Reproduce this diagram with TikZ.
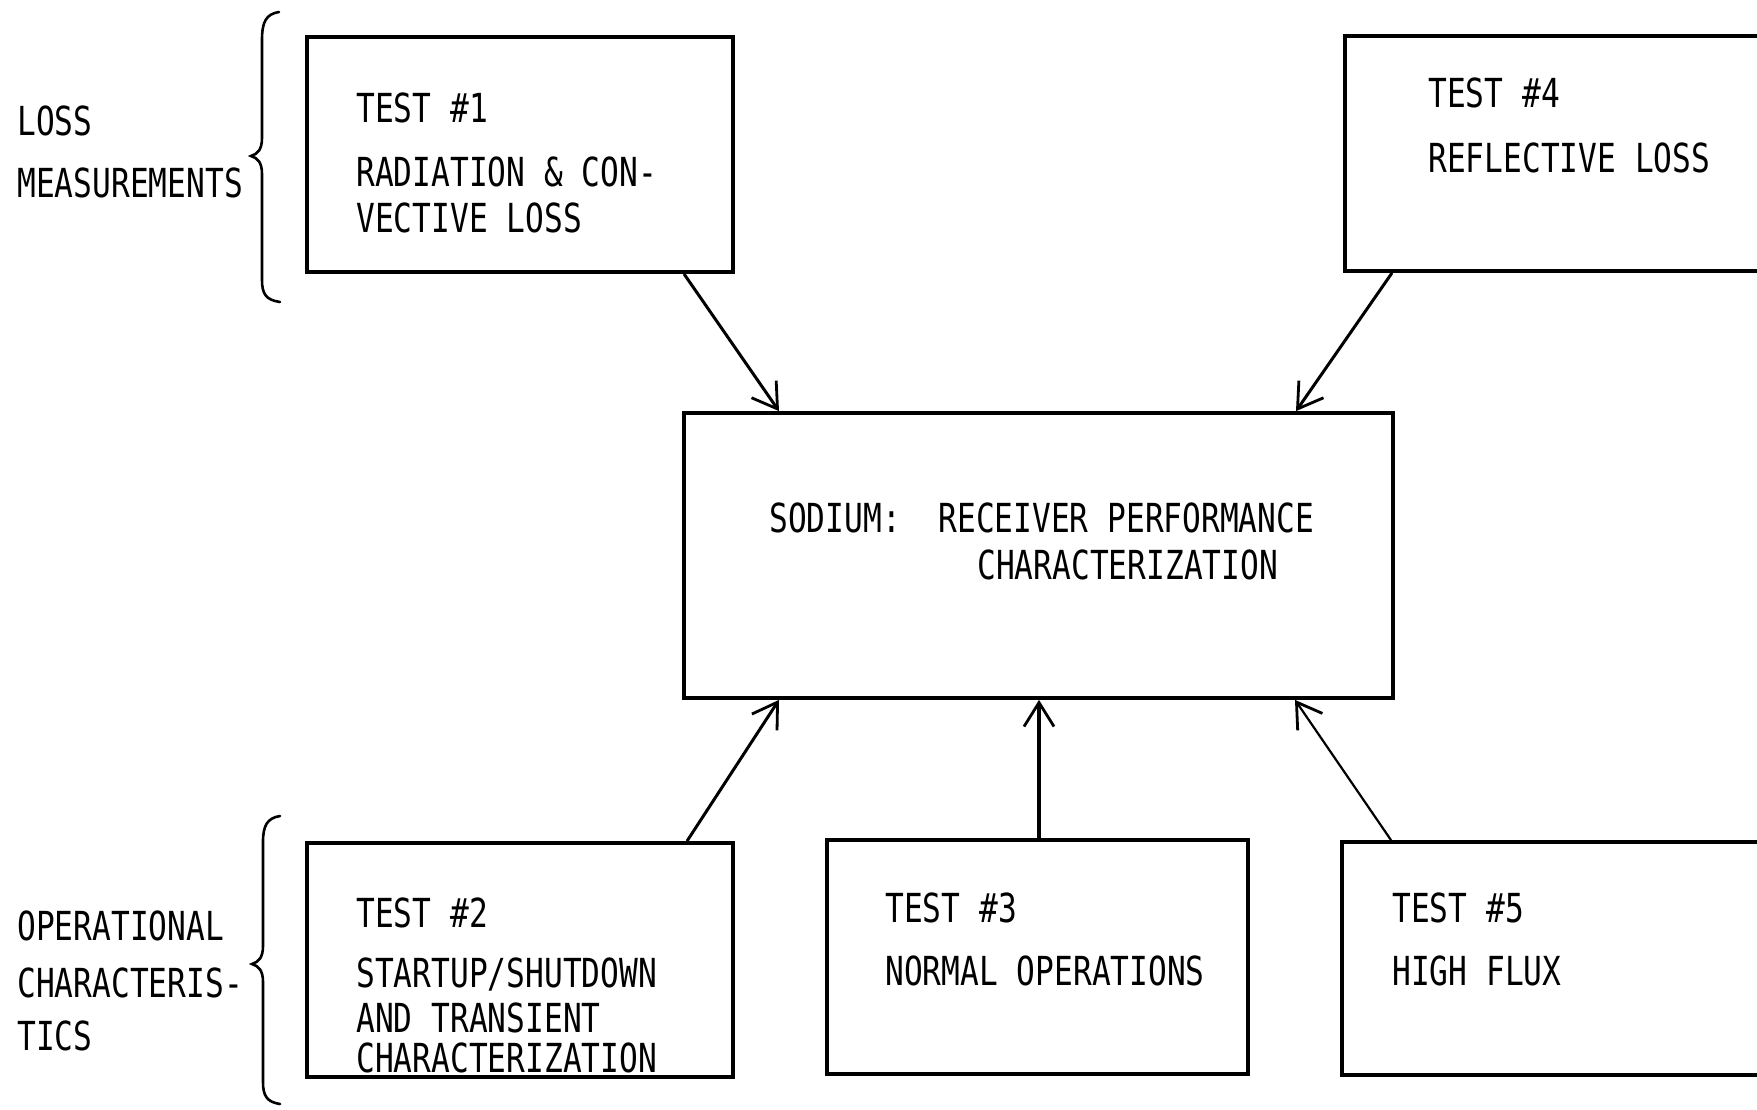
\documentclass[tikz,border=0pt]{standalone}
\usepackage{fontspec}
\newfontfamily\typewr[FakeStretch=0.78]{DejaVu Sans Mono}
\usetikzlibrary{arrows.meta,calc,fit}

\begin{document}
\begin{tikzpicture}[x=0.5pt,y=-0.5pt,
  box/.style={draw,line width=1.9pt,inner sep=0pt},
  lbl/.style={anchor=base west,inner sep=0pt,font=\typewr\fontsize{20pt}{24pt}\selectfont},
  link/.style={line width=1.5pt,-{Straight Barb[length=12pt,width=15pt,line width=1.4pt]}},
  brace/.style={line width=1.3pt,line cap=round}]
\clip (0,0) rectangle (1757,1109);
\fill[white] (0,0) rectangle (1757,1109);

% test boxes and the central box
\node[box,fit={(307,37) (733,272)}] (t1) {};
\node[box,fit={(1345,36) (1800,271)}] (t4) {};
\node[box,fit={(684,413) (1393,698)}] (core) {};
\node[box,fit={(307,843) (733,1077)}] (t2) {};
\node[box,fit={(827,840) (1248,1074)}] (t3) {};
\node[box,fit={(1342,842) (1800,1075)}] (t5) {};

% group braces
\draw[brace] (279,12) .. controls (266,14) and (262,22) .. (262,40) -- (262,138)
  .. controls (262,149) and (258,154) .. (251,156)
  .. controls (258,158) and (262,163) .. (262,174) -- (262,280)
  .. controls (262,294) and (266,300) .. (280,302);
\draw[brace] (280,816) .. controls (267,818) and (263,826) .. (263,842) -- (263,946)
  .. controls (263,957) and (259,962) .. (252,964)
  .. controls (259,966) and (263,971) .. (263,982) -- (263,1082)
  .. controls (263,1096) and (267,1102) .. (280,1104);

% group labels
\node[lbl] (g1a) at (17,135) {LOSS};
\node[lbl] (g1b) at (17,197) {MEASUREMENTS};
\node[lbl] (g2a) at (17,940) {OPERATIONAL};
\node[lbl] (g2b) at (17,997) {CHARACTERIS-};
\node[lbl] (g2c) at (17,1050) {TICS};

% box texts
\node[lbl] (t1a) at (356,122) {TEST \#1};
\node[lbl] (t1b) at (356,186) {RADIATION \& CON-};
\node[lbl] (t1c) at (356,232) {VECTIVE LOSS};
\node[lbl] (t4a) at (1428,107) {TEST \#4};
\node[lbl] (t4b) at (1428,172) {REFLECTIVE LOSS};
\node[lbl] (ca) at (769,532) {SODIUM:\ \ RECEIVER PERFORMANCE};
\node[lbl] (cb) at (977,579) {CHARACTERIZATION};
\node[lbl] (t2a) at (356,927) {TEST \#2};
\node[lbl] (t2b) at (356,987) {STARTUP/SHUTDOWN};
\node[lbl] (t2c) at (356,1032) {AND TRANSIENT};
\node[lbl] (t2d) at (356,1072) {CHARACTERIZATION};
\node[lbl] (t3a) at (885,922) {TEST \#3};
\node[lbl] (t3b) at (885,985) {NORMAL OPERATIONS};
\node[lbl] (t5a) at (1392,922) {TEST \#5};
\node[lbl] (t5b) at (1392,985) {HIGH FLUX};

% connectors into the central box
\draw[link] (684,0 |- t1.south) -- (779,0 |- core.north);
\draw[link] (1392,0 |- t4.south) -- (1296,0 |- core.north);
\draw[link] (687,0 |- t2.north) -- (779,0 |- core.south);
\draw[link,line width=1.8pt] (1039,0 |- t3.north) -- (1039,0 |- core.south);
\draw[link,line width=1.1pt] (1391,0 |- t5.north) -- (1295,0 |- core.south);
\end{tikzpicture}
\end{document}
